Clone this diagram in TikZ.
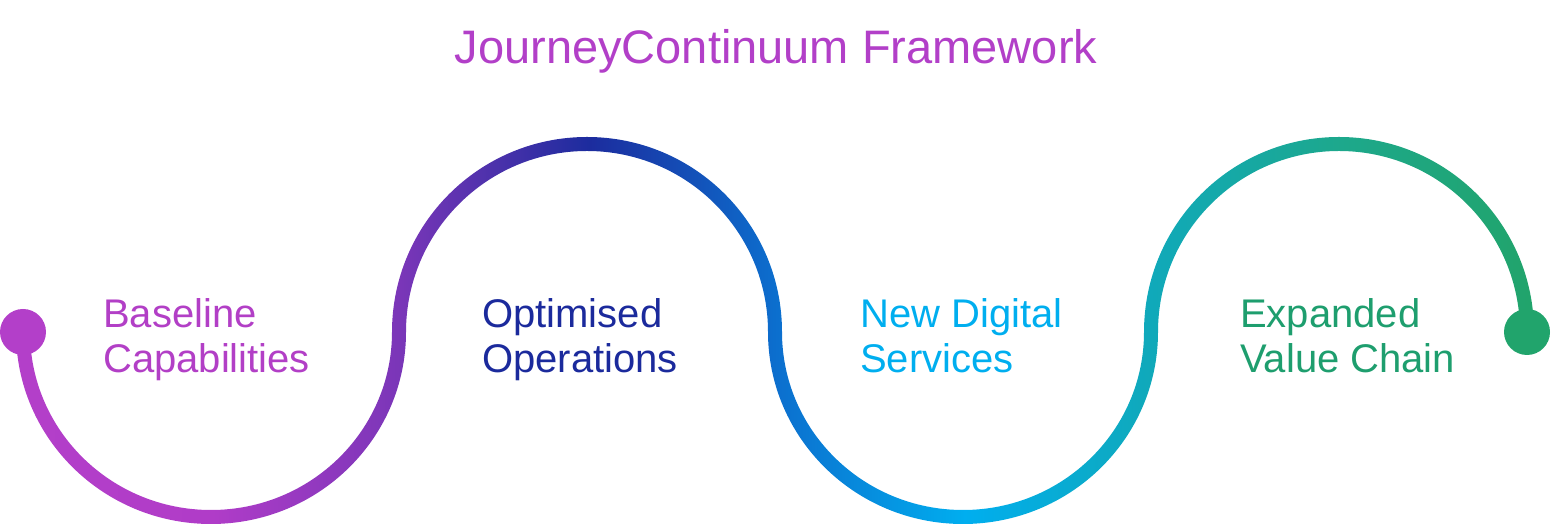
\documentclass[tikz,border=0pt]{standalone}
\usepackage{fontspec}
\setmainfont{Liberation Sans}
\definecolor{cA}{HTML}{B33FC9}
\definecolor{cB}{HTML}{B03CC8}
\definecolor{cC}{HTML}{7A36B8}
\definecolor{cD}{HTML}{1C2C9E}
\definecolor{cE}{HTML}{0C6FCE}
\definecolor{cF}{HTML}{00AEEF}
\definecolor{cG}{HTML}{10A9BA}
\definecolor{cH}{HTML}{1DA88C}
\definecolor{cI}{HTML}{21A46C}
\definecolor{titlec}{HTML}{B23FC8}
\definecolor{lab1}{HTML}{B23FC6}
\definecolor{lab2}{HTML}{1B2A9C}
\definecolor{lab3}{HTML}{00AEEF}
\definecolor{lab4}{HTML}{1E9E6E}
\pgfdeclarehorizontalshading{wave}{100bp}{color(0bp)=(cA); color(25.74bp)=(cA); color(31.87bp)=(cB); color(37.90bp)=(cC); color(44.02bp)=(cD); color(50.05bp)=(cE); color(56.11bp)=(cF); color(62.07bp)=(cG); color(68.20bp)=(cH); color(74.23bp)=(cI); color(100bp)=(cI)}
\tikzset{
  labeltext/.style={anchor=base west, inner sep=0pt, font=\fontsize{40}{45}\selectfont},
  enddot/.style={circle, inner sep=0pt, minimum size=46pt},
}
\begin{document}
\begin{tikzpicture}[x=1pt,y=1pt]
\useasboundingbox (0,0) rectangle (1551,526);
% wave ribbon with gradient
\begin{scope}
\clip (30,194) arc[start angle=180,end angle=360,x radius=181,y radius=178]
  arc[start angle=180,end angle=0,x radius=195,y radius=195]
  arc[start angle=180,end angle=360,x radius=181,y radius=178]
  arc[start angle=180,end angle=0,x radius=195,y radius=195]
  -- (1520,194)
  arc[start angle=0,end angle=180,x radius=181,y radius=181]
  arc[start angle=360,end angle=180,x radius=195,y radius=192]
  arc[start angle=0,end angle=180,x radius=181,y radius=181]
  arc[start angle=360,end angle=180,x radius=195,y radius=192]
  -- cycle;
\shade[shading=wave] (0,0) rectangle (1551,526);
\end{scope}
% end dots
\node[enddot, fill=cA] (start) at (23,194) {};
\node[enddot, fill=cI] (finish) at (1527,194) {};
% title
\node[anchor=base, inner sep=0pt, text=titlec, font=\fontsize{47}{52}\selectfont] (title) at (776,462) {JourneyContinuum Framework};
% labels
\node[labeltext, text=lab1] (l1a) at (103,198) {Baseline};
\node[labeltext, text=lab1] (l1b) at (103,153) {Capabilities};
\node[labeltext, text=lab2] (l2a) at (482,198) {Optimised};
\node[labeltext, text=lab2] (l2b) at (482,153) {Operations};
\node[labeltext, text=lab3] (l3a) at (860,198) {New Digital};
\node[labeltext, text=lab3] (l3b) at (860,153) {Services};
\node[labeltext, text=lab4] (l4a) at (1240,198) {Expanded};
\node[labeltext, text=lab4] (l4b) at (1240,153) {Value Chain};
\end{tikzpicture}
\end{document}
